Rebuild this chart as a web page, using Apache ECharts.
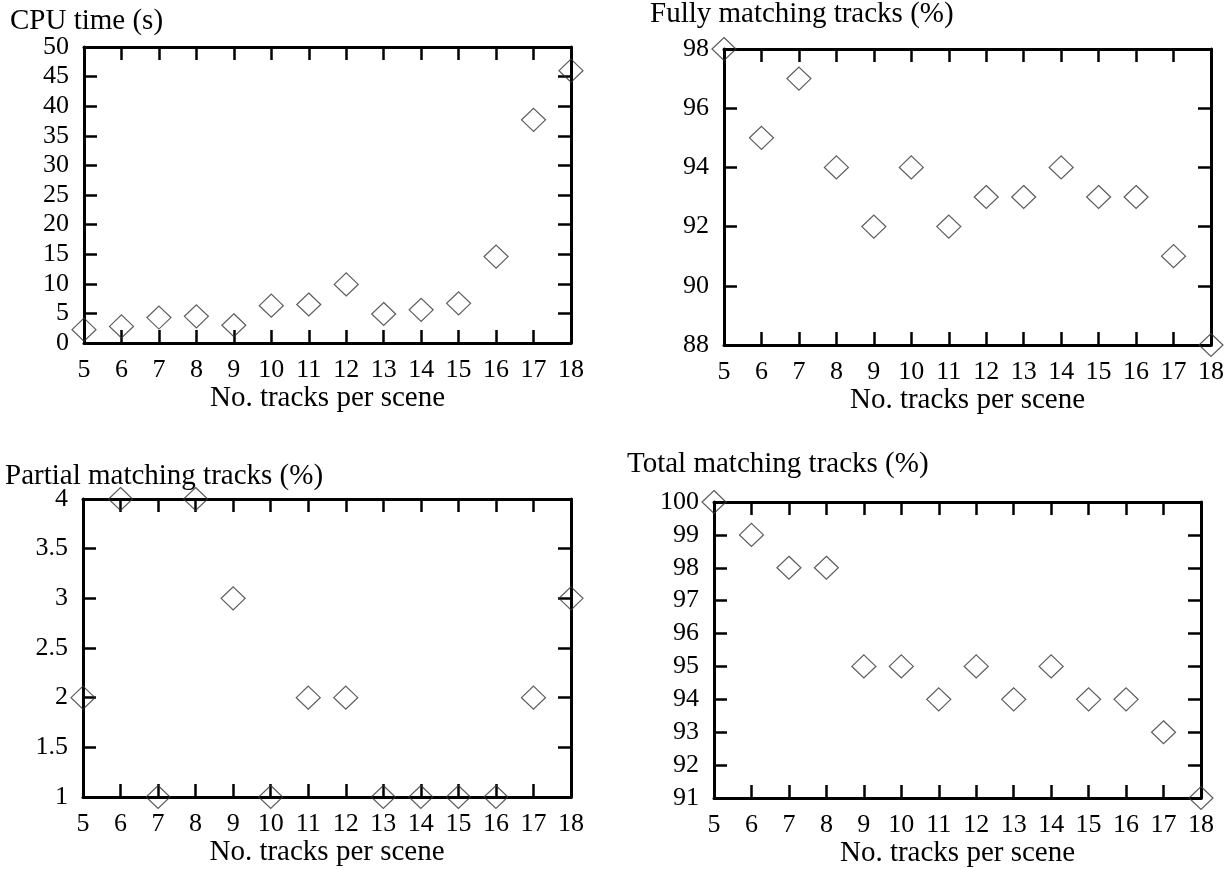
<!DOCTYPE html>
<html>
<head>
<meta charset="utf-8">
<title>tracks per scene</title>
<script src="https://cdn.jsdelivr.net/npm/echarts@6/dist/echarts.min.js"></script>
<style>
  html, body { margin: 0; padding: 0; background: #fff; }
  #main { width: 1229px; height: 869px; }
</style>
</head>
<body>
<div id="main"></div>
<script>
// x: number of tracks per scene
const tracks = [5, 6, 7, 8, 9, 10, 11, 12, 13, 14, 15, 16, 17, 18]
// values
const cpuTime = [2.25, 2.8, 4.3, 4.5, 3.0, 6.3, 6.5, 9.9, 4.9, 5.6, 6.7, 14.6, 37.7, 46.0]
const fullyMatching = [98, 95, 97, 94, 92, 94, 92, 93, 93, 94, 93, 93, 91, 88]
const partialMatching = [2, 4, 1, 4, 3, 1, 2, 2, 1, 1, 1, 1, 2, 3]
const totalMatching = [100, 99, 98, 98, 95, 95, 94, 95, 94, 95, 94, 94, 93, 91]

const titles = ['CPU time (s)', 'Fully matching tracks (%)', 'Partial matching tracks (%)', 'Total matching tracks (%)']
const xName = 'No. tracks per scene'

const FONT = '"Liberation Serif", "DejaVu Serif", serif'

// panel boxes and y ranges
const panels = [
  { grid: { left: 84, top: 47, width: 487, height: 296 }, min: 0, max: 50, step: 5, data: cpuTime, tx: 10, ty: 24 },
  { grid: { left: 724, top: 49, width: 487, height: 296 }, min: 88, max: 98, step: 2, data: fullyMatching, tx: 650, ty: 17 },
  { grid: { left: 83, top: 499, width: 488, height: 298 }, min: 1, max: 4, step: 0.5, data: partialMatching, tx: 5, ty: 479 },
  { grid: { left: 714, top: 502, width: 487, height: 296 }, min: 91, max: 100, step: 1, data: totalMatching, tx: 627, ty: 467 }
]

const axisLine = { show: true, onZero: false, lineStyle: { color: '#000', width: 3 } }
const axisTick = { show: true, inside: true, length: 13, lineStyle: { color: '#000', width: 2.5 } }

const grids = []
const xAxes = []
const yAxes = []
const series = []
const texts = []

panels.forEach(function (p, i) {
  grids.push(p.grid)
  // bottom and top x axis (top one only mirrors the ticks)
  xAxes.push({
    type: 'value', gridIndex: i, position: 'bottom', min: 5, max: 18, interval: 1,
    name: xName, nameLocation: 'middle', nameGap: 41,
    nameTextStyle: { fontFamily: FONT, fontSize: 29, color: '#000' },
    axisLine: axisLine, axisTick: axisTick, splitLine: { show: false },
    axisLabel: { fontFamily: FONT, fontSize: 26, color: '#000', margin: 14 }
  })
  xAxes.push({
    type: 'value', gridIndex: i, position: 'top', min: 5, max: 18, interval: 1,
    axisLine: axisLine, axisTick: axisTick, splitLine: { show: false },
    axisLabel: { show: false }
  })
  yAxes.push({
    type: 'value', gridIndex: i, position: 'left', min: p.min, max: p.max, interval: p.step,
    axisLine: axisLine, axisTick: axisTick, splitLine: { show: false },
    axisLabel: { fontFamily: FONT, fontSize: 26, color: '#000', margin: 15 }
  })
  yAxes.push({
    type: 'value', gridIndex: i, position: 'right', min: p.min, max: p.max, interval: p.step,
    axisLine: axisLine, axisTick: axisTick, splitLine: { show: false },
    axisLabel: { show: false }
  })
  series.push({
    type: 'scatter',
    xAxisIndex: i * 2,
    yAxisIndex: i * 2,
    symbol: 'diamond',
    symbolSize: [24, 23],
    clip: false,
    itemStyle: { color: 'rgba(0,0,0,0)', borderColor: '#333', borderWidth: 1.2 },
    data: tracks.map(function (t, k) { return [t, p.data[k]] })
  })
  texts.push({
    type: 'text', left: p.tx, top: p.ty - 17,
    style: { text: titles[i], font: '29px ' + FONT, fill: '#000' }
  })
})

const chart = echarts.init(document.getElementById('main'))
chart.setOption({
  animation: false,
  backgroundColor: '#fff',
  grid: grids,
  xAxis: xAxes,
  yAxis: yAxes,
  series: series,
  graphic: texts
})
</script>
</body>
</html>
